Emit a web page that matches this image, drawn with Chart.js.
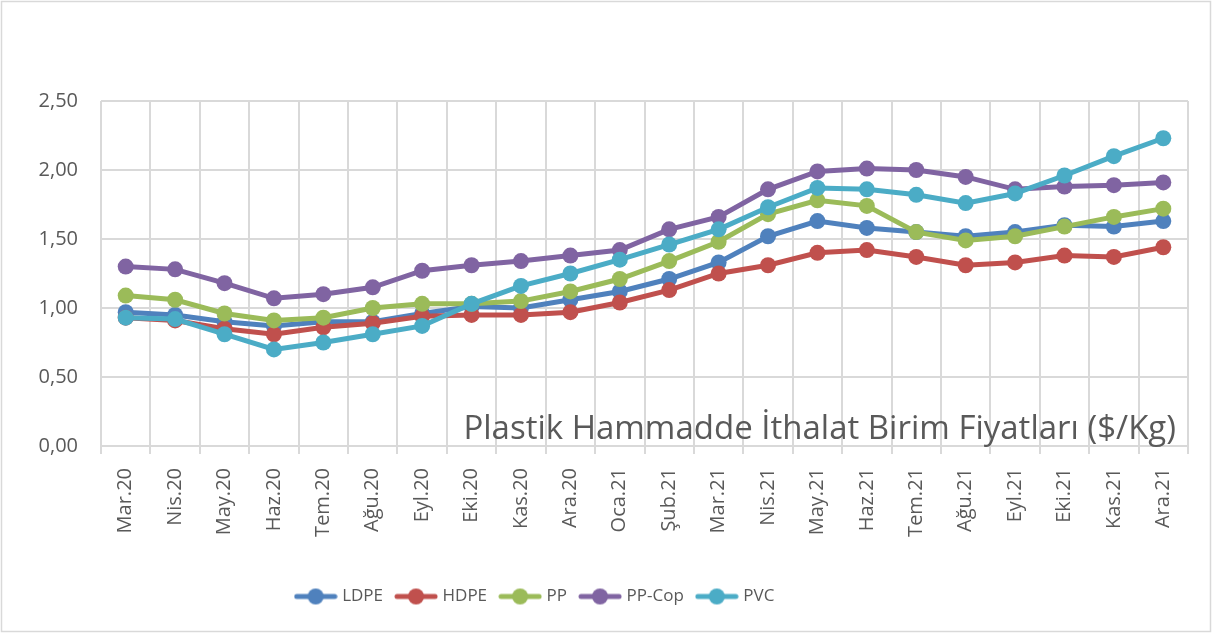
<!DOCTYPE html>
<html>
<head>
<meta charset="utf-8">
<script src="https://cdn.jsdelivr.net/npm/chart.js@4.4.1/dist/chart.umd.min.js"></script>
<style>
  body { margin: 0; background: #fff; }
  #kutu { width: 1212px; height: 633px; }
</style>
</head>
<body>
<div id="kutu"><canvas id="grafik" width="1212" height="633"></canvas></div>
<script>
const aylar = ["Mar.20","Nis.20","May.20","Haz.20","Tem.20","Ağu.20","Eyl.20","Eki.20","Kas.20","Ara.20","Oca.21","Şub.21",
               "Mar.21","Nis.21","May.21","Haz.21","Tem.21","Ağu.21","Eyl.21","Eki.21","Kas.21","Ara.21"];
const ldpe  = [0.97,0.95,0.90,0.87,0.90,0.90,0.96,1.01,1.00,1.06,1.12,1.21,1.33,1.52,1.63,1.58,1.55,1.52,1.55,1.60,1.59,1.63];
const hdpe  = [0.93,0.91,0.85,0.81,0.86,0.89,0.94,0.95,0.95,0.97,1.04,1.13,1.25,1.31,1.40,1.42,1.37,1.31,1.33,1.38,1.37,1.44];
const pp    = [1.09,1.06,0.96,0.91,0.93,1.00,1.03,1.03,1.05,1.12,1.21,1.34,1.48,1.68,1.78,1.74,1.55,1.49,1.52,1.59,1.66,1.72];
const ppCop = [1.30,1.28,1.18,1.07,1.10,1.15,1.27,1.31,1.34,1.38,1.42,1.57,1.66,1.86,1.99,2.01,2.00,1.95,1.86,1.88,1.89,1.91];
const pvc   = [0.93,0.92,0.81,0.70,0.75,0.81,0.87,1.03,1.16,1.25,1.35,1.46,1.57,1.73,1.87,1.86,1.82,1.76,1.83,1.96,2.10,2.23];
const seriAdlari = ["LDPE","HDPE","PP","PP-Cop","PVC"];
const renkler = ["#4F81BD","#C0504D","#9BBB59","#8064A2","#4BACC6"];
const baslik = "Plastik Hammadde İthalat Birim Fiyatları ($/Kg)";
const yazi = "#595959";
const izgara = "#d9d9d9";

// legend icin cizgi + nokta
function isaretYap(renk) {
    const c = document.createElement("canvas");
    c.width = 44; c.height = 18;
    const x = c.getContext("2d");
    x.strokeStyle = renk; x.lineWidth = 5; x.lineCap = "round";
    x.beginPath(); x.moveTo(3, 9); x.lineTo(41, 9); x.stroke();
    x.fillStyle = renk;
    x.beginPath(); x.arc(22, 9, 8, 0, Math.PI * 2); x.fill();
    return c;
}

const veriler = [ldpe, hdpe, pp, ppCop, pvc];
const datasets = veriler.map((d, i) => ({
    label: seriAdlari[i],
    data: d,
    borderColor: renkler[i],
    backgroundColor: renkler[i],
    borderWidth: 5,
    pointRadius: 8,
    pointHoverRadius: 8,
    pointBorderWidth: 0,
    tension: 0,
    order: 5 - i
}));

const arkaPlan = {
    id: "arkaPlan",
    beforeDraw(chart) {
        const ctx = chart.ctx;
        ctx.save();
        ctx.fillStyle = "#fff";
        ctx.fillRect(0, 0, chart.width, chart.height);
        ctx.strokeStyle = izgara;
        ctx.lineWidth = 1.5;
        ctx.strokeRect(1.5, 1.5, chart.width - 3, chart.height - 3);
        ctx.restore();
    },
    afterLayout(chart) {
        // excel'deki gibi legend biraz sola kaysin
        chart.legend.left -= 58;
        chart.legend.right -= 58;
    },
    afterDraw(chart) {
        const { ctx, chartArea } = chart;
        ctx.save();
        ctx.font = "33px 'Open Sans'";
        ctx.fillStyle = yazi;
        ctx.textAlign = "right";
        ctx.textBaseline = "alphabetic";
        ctx.fillText(baslik, chartArea.right - 12, chartArea.bottom - 7);
        ctx.restore();
    }
};

new Chart(document.getElementById("grafik"), {
    type: "line",
    data: { labels: aylar, datasets: datasets },
    plugins: [arkaPlan],
    options: {
        responsive: false,
        animation: false,
        layout: { padding: { top: 101, left: 0, right: 24, bottom: 18 } },
        scales: {
            x: {
                offset: true,
                grid: { offset: true, color: izgara, lineWidth: 2, tickLength: 8, drawTicks: true },
                border: { color: izgara, width: 2 },
                ticks: { color: yazi, font: { family: "'Open Sans'", size: 20 }, minRotation: 90, maxRotation: 90, padding: 14, autoSkip: false },
                afterFit: s => { s.height = 127; }
            },
            y: {
                min: 0, max: 2.5,
                grid: { color: izgara, lineWidth: 2, drawTicks: false },
                border: { display: false },
                ticks: {
                    stepSize: 0.5, color: yazi, padding: 23,
                    font: { family: "'Open Sans'", size: 20 },
                    callback: v => v.toFixed(2).replace(".", ",")
                },
                afterFit: s => { s.width = 101; }
            }
        },
        plugins: {
            tooltip: { enabled: false },
            legend: {
                position: "bottom",
                labels: {
                    usePointStyle: true,
                    pointStyleWidth: 36,
                    color: yazi,
                    font: { family: "'Open Sans'", size: 17 },
                    padding: 15,
                    generateLabels: chart => chart.data.datasets.map((ds, i) => ({
                        text: ds.label,
                        fillStyle: ds.borderColor,
                        strokeStyle: ds.borderColor,
                        pointStyle: isaretYap(ds.borderColor),
                        fontColor: yazi,
                        lineWidth: 0,
                        hidden: false,
                        datasetIndex: i
                    }))
                }
            }
        }
    }
});
</script>
</body>
</html>
